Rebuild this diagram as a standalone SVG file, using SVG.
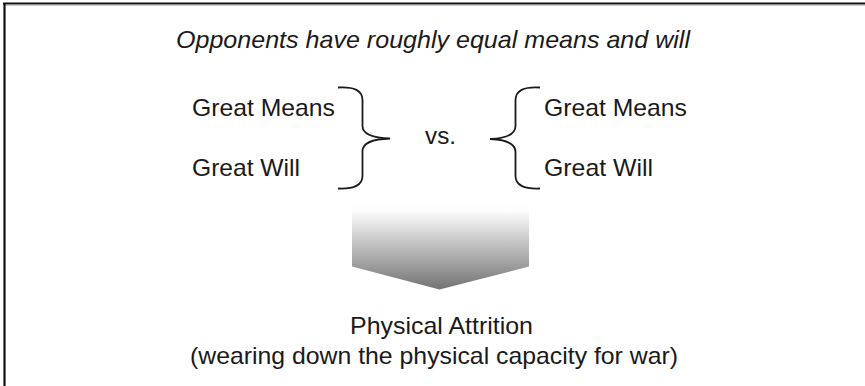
<svg xmlns="http://www.w3.org/2000/svg" width="865" height="386" viewBox="0 0 865 386">
<defs>
<linearGradient id="g" x1="0" y1="0" x2="0" y2="1">
<stop offset="0" stop-color="#ffffff"/>
<stop offset="0.12" stop-color="#fdfdfd"/>
<stop offset="1" stop-color="#737373"/>
</linearGradient>
<style>
text{font-family:"Liberation Sans",Arial,sans-serif;font-size:24px;fill:#1a1a1a}
.it{font-style:italic}
.brace{fill:none;stroke:#1a1a1a;stroke-width:1.8}
</style>
</defs>
<rect width="865" height="386" fill="#ffffff"/>
<g id="frame">
<line x1="3" y1="3.5" x2="865" y2="3.5" stroke="#111" stroke-width="2.2"/>
<line x1="4" y1="5.3" x2="865" y2="5.3" stroke="#bbb" stroke-width="1"/>
<line x1="4.5" y1="3" x2="4.5" y2="386" stroke="#111" stroke-width="2.2"/>
</g>
<g id="title"><text class="it" x="176" y="48" textLength="514" lengthAdjust="spacingAndGlyphs">Opponents have roughly equal means and will</text></g>
<g id="left">
<text x="192" y="116" textLength="143" lengthAdjust="spacingAndGlyphs">Great Means</text>
<text x="192" y="176" textLength="108" lengthAdjust="spacingAndGlyphs">Great Will</text>
</g>
<g id="vs"><text x="425" y="144" textLength="31" lengthAdjust="spacingAndGlyphs">vs.</text></g>
<g id="right">
<text x="544" y="116" textLength="143" lengthAdjust="spacingAndGlyphs">Great Means</text>
<text x="544" y="176" textLength="109" lengthAdjust="spacingAndGlyphs">Great Will</text>
</g>
<g id="connectors">
<path class="brace" d="M338,87.5 Q362.5,86 362.5,100 L362.5,126 Q362.5,137.5 390,138.5 Q362.5,139.5 362.5,151 L362.5,176 Q362.5,189.5 338,188.5"/>
<path class="brace" d="M540,87.5 Q515.5,86 515.5,100 L515.5,126 Q515.5,138 490,139 Q515.5,140 515.5,152 L515.5,176 Q515.5,189.5 540,188.5"/>
</g>
<g id="arrow"><polygon points="352,200 529,200 529,266.5 439.5,289.5 352,266.5" fill="url(#g)"/></g>
<g id="result">
<text x="350" y="334" textLength="183" lengthAdjust="spacingAndGlyphs">Physical Attrition</text>
<text x="190" y="364" textLength="488" lengthAdjust="spacingAndGlyphs">(wearing down the physical capacity for war)</text>
</g>
</svg>
